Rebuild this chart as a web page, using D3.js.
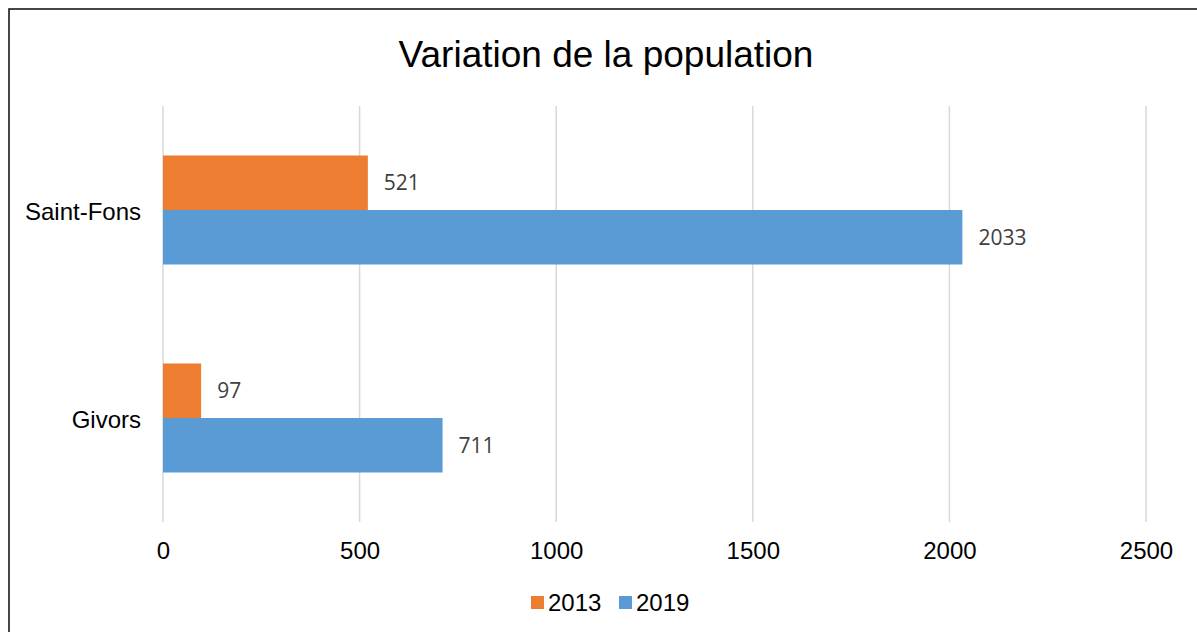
<!DOCTYPE html>
<html><head><meta charset="utf-8">
<script src="https://cdn.jsdelivr.net/npm/d3@7"></script>
<style>body{margin:0;background:#fff;}svg{display:block;}</style>
</head><body>
<svg id="c" width="1197" height="632"></svg>
<script>
const categories = ["Saint-Fons", "Givors"];
const seriesNames = ["2013", "2019"];
const values2013 = [521, 97];
const values2019 = [2033, 711];
const xTicks = [0, 500, 1000, 1500, 2000, 2500];
const colors = ["#ED7D31", "#5B9BD5"];

const svg = d3.select("#c");
const W = 1197, H = 632;
const m = {left: 163, right: 1146, top: 106, bottom: 522};

svg.append("rect").attr("x", 9).attr("y", 9).attr("width", W + 10).attr("height", H + 10)
  .attr("fill", "#fff").attr("stroke", "#1a1a1a").attr("stroke-width", 1.6);

svg.append("text").attr("x", 606).attr("y", 67).attr("text-anchor", "middle")
  .attr("font-family", "Liberation Sans, Arial, sans-serif").attr("font-size", 37)
  .attr("fill", "#000").text("Variation de la population");

const x = d3.scaleLinear().domain([0, 2500]).range([m.left, m.right]);
const y = d3.scaleBand().domain(categories).range([m.top, m.bottom]).paddingInner(0).paddingOuter(0);
const inner = d3.scaleBand().domain(seriesNames).range([y.bandwidth()/2 - 54.5, y.bandwidth()/2 + 54.5]);

// gridlines
svg.append("g").selectAll("line").data(xTicks).join("line")
  .attr("x1", d => x(d)).attr("x2", d => x(d)).attr("y1", m.top).attr("y2", m.bottom)
  .attr("stroke", "#d9d9d9").attr("stroke-width", 1.5);

// x axis
const xAxis = svg.append("g").attr("transform", `translate(0,${m.bottom})`)
  .call(d3.axisBottom(x).tickValues(xTicks).tickSize(0).tickPadding(20).tickFormat(d3.format("d")));
xAxis.select(".domain").remove();
xAxis.selectAll("text").attr("font-family", "Liberation Sans, Arial, sans-serif").attr("font-size", 24).attr("fill", "#000");

// y axis
const yAxis = svg.append("g").attr("transform", `translate(${m.left},0)`)
  .call(d3.axisLeft(y).tickSize(0).tickPadding(22));
yAxis.select(".domain").remove();
yAxis.selectAll("text").attr("font-family", "Liberation Sans, Arial, sans-serif").attr("font-size", 24).attr("fill", "#000").attr("dy", "0.4em");

const rows = [];
categories.forEach((c, i) => {
  rows.push({cat: c, s: "2013", v: values2013[i], col: colors[0]});
  rows.push({cat: c, s: "2019", v: values2019[i], col: colors[1]});
});

const g = svg.append("g");
g.selectAll("rect").data(rows).join("rect")
  .attr("x", x(0)).attr("y", d => y(d.cat) + inner(d.s))
  .attr("width", d => x(d.v) - x(0)).attr("height", inner.bandwidth())
  .attr("fill", d => d.col);

g.selectAll("text").data(rows).join("text")
  .attr("x", d => x(d.v) + 16).attr("y", d => y(d.cat) + inner(d.s) + inner.bandwidth()/2)
  .attr("dy", "0.36em")
  .attr("font-family", "Open Sans, Noto Sans, sans-serif").attr("font-size", 21).attr("fill", "#404040")
  .text(d => d.v);

// legend
const leg = svg.append("g");
const legItems = [{n: seriesNames[0], c: colors[0], x: 531}, {n: seriesNames[1], c: colors[1], x: 619}];
leg.selectAll("rect").data(legItems).join("rect")
  .attr("x", d => d.x).attr("y", 596).attr("width", 13).attr("height", 13).attr("fill", d => d.c);
leg.selectAll("text").data(legItems).join("text")
  .attr("x", d => d.x + 17).attr("y", 611)
  .attr("font-family", "Liberation Sans, Arial, sans-serif").attr("font-size", 24).attr("fill", "#000")
  .text(d => d.n);
</script>
</body></html>
